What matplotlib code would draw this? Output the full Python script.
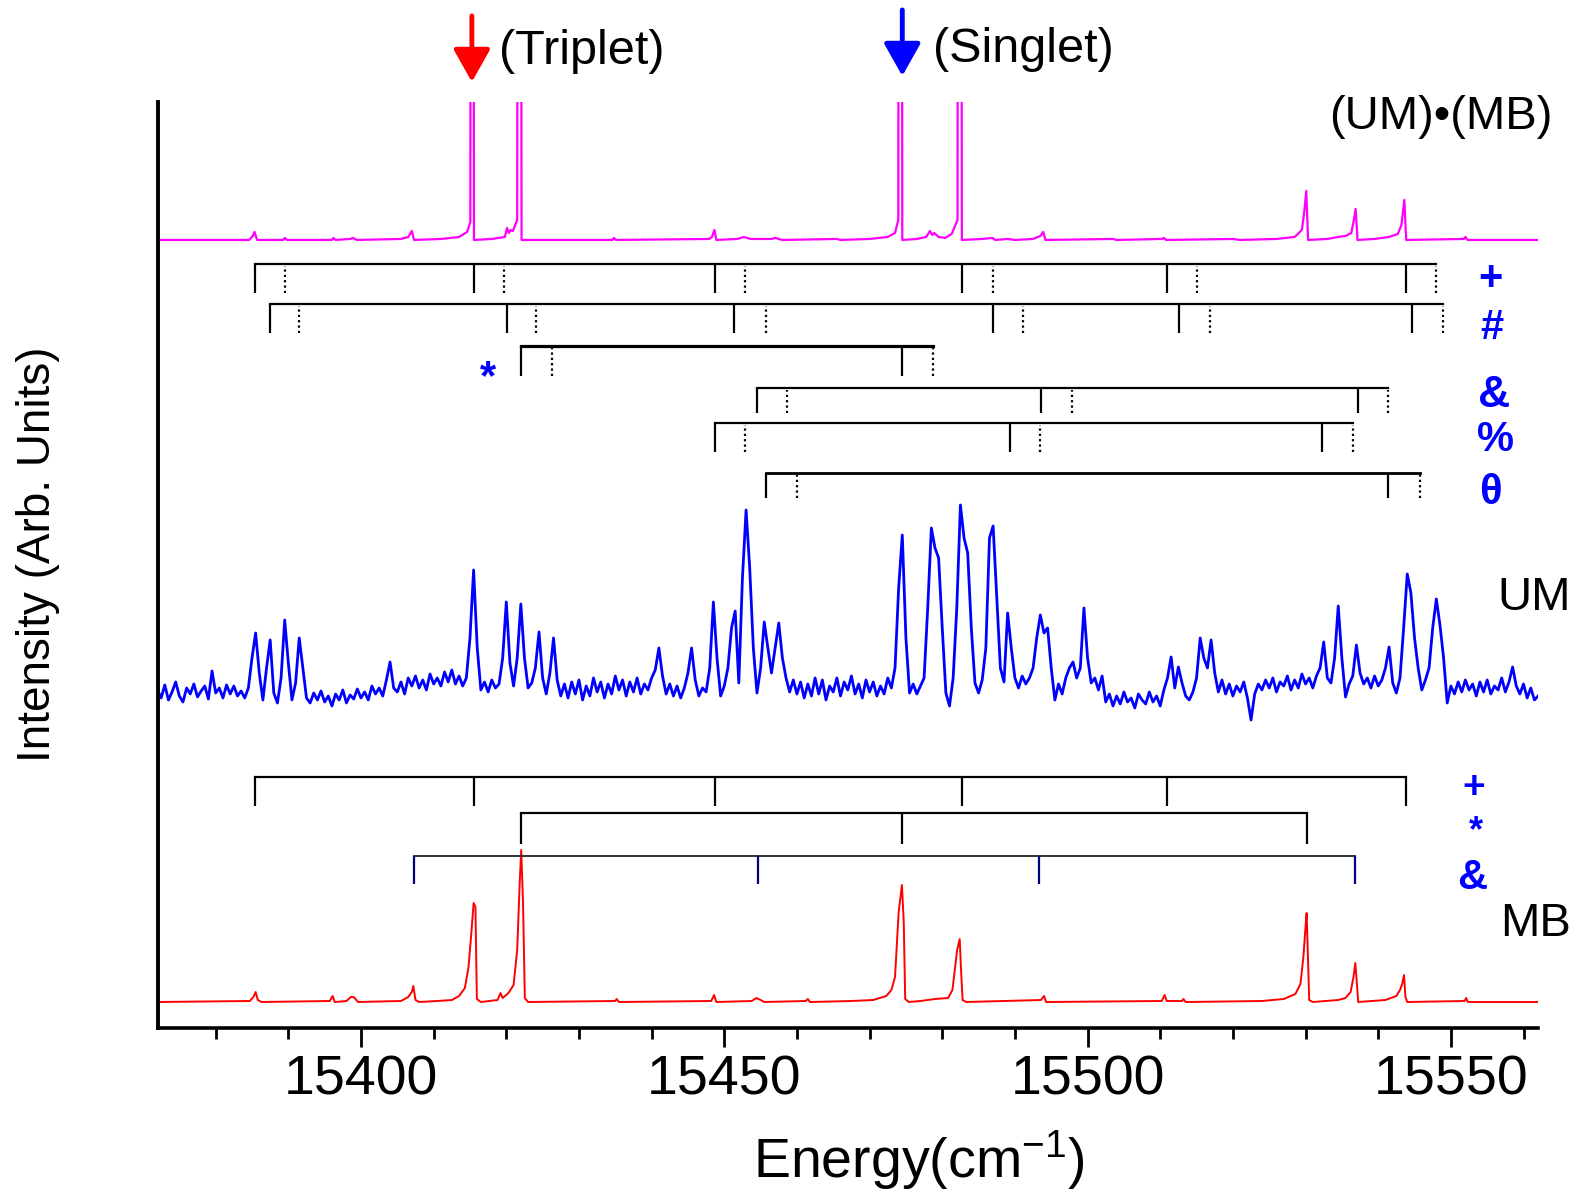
import numpy as np
import matplotlib
matplotlib.use('Agg')
import matplotlib.pyplot as plt
from matplotlib.ticker import MultipleLocator

plt.rcParams['font.family'] = ['Liberation Sans', 'DejaVu Sans']
plt.rcParams['mathtext.fontset'] = 'custom'
plt.rcParams['mathtext.rm'] = 'Liberation Sans'
plt.rcParams['mathtext.it'] = 'Liberation Sans:italic'

# --- UM spectrum: 0.5 cm-1 steps, stored as (start energy, intensities) blocks
um_blocks = [
    (15372, [-2, -10, 3, -12, -4, 6, -8, -14, 0, -6, 4, -9, -3, 2, -11, 17, -5, 0, -10, 3]),
    (15382, [-6, 2, -8, -3, -10, 0, 30, 55, 15, -12, 20, 48, -5, -15, 10, 68, 25, -12, 5, 50]),
    (15392, [20, -10, -15, -5, -12, -3, -14, -8, -18, -6, -12, -2, -15, -7, -11, -1, -10, -4, -12, 2]),
    (15402, [-6, 0, -8, 8, 26, 0, -4, 6, -6, 10, 2, 12, 0, 8, -2, 14, 4, 10, 2, 16]),
    (15412, [6, 18, 4, 12, 2, 10, 50, 118, 40, -2, 6, -4, 8, 0, 4, 30, 86, 25, 2, 30]),
    (15422, [84, 30, 0, 5, 20, 56, 10, -6, 15, 50, 8, -8, 4, -10, 6, -6, 8, -12, 2, -8]),
    (15432, [10, -4, 6, -10, 4, -6, 12, -2, 8, -8, 6, -4, 10, -6, 4, -2, 10, 18, 40, 12]),
    (15442, [-6, 4, -8, 2, -10, 0, 15, 40, 8, -8, 0, -4, 20, 86, 30, -8, 2, 20, 60, 77]),
    (15452, [5, 110, 178, 120, 40, -5, 20, 66, 40, 15, 40, 65, 30, 10, -4, 8, -6, 6, -10, 4]),
    (15462, [-8, 10, -6, 8, -12, 2, -4, 10, -8, 6, -2, 12, -6, 4, -10, 8, -4, 6, -8, 2]),
    (15472, [-6, 10, 0, 20, 100, 153, 50, -5, 4, -6, 2, 10, 80, 160, 140, 130, 60, -5, -18, 10]),
    (15482, [80, 183, 150, 135, 60, 5, -5, 8, 40, 150, 162, 90, 20, 6, 75, 40, 10, 0, 12, 4]),
    (15492, [10, 20, 50, 73, 55, 60, 20, -12, 4, -6, 10, 20, 26, 10, 20, 80, 30, 5, 10, -2]),
    (15502, [12, -14, -6, -18, -8, -16, -4, -14, -10, -20, -6, -12, -16, -4, -14, -8, -18, -2, 10, 31]),
    (15512, [0, 21, 5, -8, -12, -4, 10, 50, 30, 20, 48, 15, -4, 8, -6, 4, -8, 2, -4, 6]),
    (15522, [-10, -32, -6, 4, -2, 8, 0, 10, -4, 6, 2, 12, -2, 8, 0, 14, 4, 10, 0, 12]),
    (15532, [20, 46, 10, 5, 30, 82, 30, -9, 4, 12, 43, 15, 4, 10, 0, 12, 2, 8, 20, 41]),
    (15542, [5, -5, 10, 60, 114, 95, 50, 20, -2, 8, 20, 60, 89, 63, 30, -15, 2, -6, 6, -4]),
    (15552, [8, -2, 4, -8, 6, -4, 8, -6, 2, -2, 10, -4, 6, 21, 2, -6, 4, -10, 0, -12, -8]),
]

# --- (UM)•(MB) complex spectrum (energy, intensity)
complex_pts = [
    (15372.0, 0), (15384.6, 0), (15385.1, 4), (15385.35, 8), (15385.7, 0),
    (15389.3, 0), (15389.5, 2), (15389.8, 0), (15396.0, 0), (15396.2, 2), (15396.5, 0),
    (15398.5, 1), (15398.9, 2), (15399.4, 0),
    (15405.5, 1), (15406.5, 3), (15407.0, 9), (15407.3, 0),
    (15411.0, 1), (15413.5, 3), (15414.6, 8), (15415.05, 18), (15415.3, 2000), (15415.55, 0),
    (15418.0, 1), (15419.8, 3), (15420.1, 12), (15420.35, 7), (15420.6, 10), (15420.9, 9),
    (15421.5, 20), (15421.8, 2000), (15422.1, 0),
    (15434.6, 0), (15434.8, 2), (15435.1, 0),
    (15447.9, 1), (15448.3, 3), (15448.65, 10), (15448.9, 0),
    (15451.8, 1), (15452.7, 3), (15453.6, 1), (15456.5, 1), (15457.0, 2), (15458.0, 0),
    (15465.5, 1), (15466.0, 0), (15470.0, 1), (15472.5, 3), (15473.5, 7), (15473.95, 20),
    (15474.2, 2000), (15474.5, 0),
    (15476.5, 1), (15477.8, 3), (15478.3, 9), (15478.6, 5), (15478.9, 7), (15479.5, 3),
    (15480.4, 2), (15481.3, 6), (15482.1, 20), (15482.4, 2000), (15482.7, 0),
    (15485.5, 1), (15486.9, 2), (15487.3, 0), (15489.0, 1), (15490.0, 0),
    (15492.5, 1), (15493.5, 4), (15493.9, 8), (15494.2, 0),
    (15503.5, 1), (15504.0, 0), (15510.2, 1), (15510.5, 2), (15510.8, 0), (15520.0, 1), (15521.0, 0),
    (15526.0, 1), (15528.5, 3), (15529.5, 10), (15529.85, 30), (15530.1, 49), (15530.35, 0),
    (15533.0, 1), (15534.5, 3), (15535.5, 4), (15536.3, 7), (15536.65, 20), (15536.9, 31), (15537.15, 0),
    (15539.5, 1), (15541.5, 3), (15542.7, 6), (15543.2, 15), (15543.6, 40), (15543.85, 0),
    (15551.8, 1), (15552.0, 3), (15552.3, 0), (15561.9, 0),
]

# --- MB spectrum (energy, intensity)
mb_pts = [
    (15372.0, 0), (15384.7, 1), (15385.2, 5), (15385.5, 10), (15385.8, 2), (15386.3, 0),
    (15395.7, 1), (15396.1, 6), (15396.4, 0), (15398.0, 1), (15398.6, 5), (15399.0, 5), (15399.6, 0),
    (15405.5, 1), (15406.5, 5), (15407.0, 10), (15407.2, 16), (15407.5, 2), (15408.0, 0),
    (15410.5, 1), (15412.5, 2), (15413.5, 6), (15414.3, 14), (15414.8, 35), (15415.2, 70),
    (15415.5, 99), (15415.75, 95), (15415.95, 3), (15416.5, 0),
    (15418.8, 2), (15419.2, 9), (15419.5, 4), (15420.3, 9), (15421.0, 17), (15421.5, 52),
    (15421.85, 120), (15422.05, 152), (15422.3, 100), (15422.55, 4), (15423.0, 0),
    (15435.0, 1), (15435.2, 3), (15435.5, 0), (15448.2, 1), (15448.6, 7), (15448.9, 0),
    (15453.8, 1), (15454.4, 4), (15455.0, 2), (15455.5, 0), (15461.2, 1), (15461.5, 3), (15461.8, 0),
    (15467.5, 1), (15470.5, 2), (15472.3, 6), (15473.0, 12), (15473.5, 25), (15474.0, 90),
    (15474.45, 117), (15474.7, 80), (15474.9, 3), (15475.4, 0),
    (15477.0, 1), (15479.0, 3), (15480.8, 4), (15481.4, 12), (15482.05, 52), (15482.4, 63),
    (15482.6, 30), (15482.8, 2), (15483.3, 0),
    (15493.6, 2), (15494.0, 6), (15494.3, 0),
    (15510.2, 1), (15510.6, 7), (15510.9, 1), (15513.0, 1), (15513.2, 3), (15513.5, 0),
    (15524.0, 1), (15527.0, 3), (15528.6, 8), (15529.3, 18), (15529.7, 45), (15530.0, 75),
    (15530.15, 89), (15530.35, 40), (15530.5, 2), (15531.0, 0),
    (15534.5, 2), (15535.5, 4), (15536.2, 10), (15536.6, 25), (15536.85, 39), (15537.05, 20), (15537.25, 0),
    (15541.0, 2), (15542.5, 6), (15543.0, 12), (15543.3, 18), (15543.55, 27), (15543.75, 5), (15544.0, 0),
    (15551.9, 1), (15552.1, 4), (15552.35, 0), (15561.9, 0),
]

# --- vibronic progressions (solid = origin bands, dotted = partner bands)
plus_solid = [15385.35, 15415.5, 15448.7, 15482.7, 15511.0, 15543.8]
plus_dot = [15389.5, 15419.7, 15452.9, 15487.0, 15515.1, 15548.0]
hash_solid = [15387.45, 15420.1, 15451.3, 15487.0, 15512.6, 15544.7]
hash_dot = [15391.5, 15424.1, 15455.75, 15491.1, 15516.8, 15548.9]
star_solid = [15422.05, 15474.5]
star_dot = [15426.35, 15478.7]
amp_solid = [15454.5, 15493.65, 15537.2]
amp_dot = [15458.7, 15497.9, 15541.4]
pct_solid = [15448.7, 15489.3, 15532.3]
pct_dot = [15452.9, 15493.45, 15536.55]
theta_solid = [15455.7, 15541.35]
theta_dot = [15460.0, 15545.75]

mb_plus = [15385.35, 15415.5, 15448.7, 15482.7, 15511.0, 15543.8]
mb_star = [15422.05, 15474.5, 15530.2]
mb_amp = [15407.25, 15454.6, 15493.25, 15536.8]

triplet_pos = 15415.26
singlet_pos = 15474.5

# vertical offsets of the stacked traces
MB_OFFSET = 26
UM_OFFSET = 340
COMPLEX_OFFSET = 788


def draw_ladder(ax, y, solid, dotted=(), tick=29, lw=1.6, line_lw=None,
                line_color='k', tick_color='k'):
    xs = list(solid) + list(dotted)
    ax.plot([min(xs), max(xs)], [y, y], color=line_color, lw=line_lw or lw,
            solid_capstyle='projecting')
    ax.vlines(solid, y - tick, y, colors=tick_color, lw=lw)
    if len(dotted):
        ax.vlines(dotted, y - tick, y - 2, colors='k', lw=lw, linestyles=(0, (1, 1.4)))


fig = plt.figure(figsize=(15.77, 11.98), dpi=100)
ax = fig.add_axes([0.0999, 0.1419, 0.8754, 0.7730])

# spectra
um_x = np.concatenate([start + 0.5 * np.arange(len(v)) for start, v in um_blocks])
um_y = np.concatenate([v for _, v in um_blocks])
ax.plot(um_x, um_y + UM_OFFSET, color='#0000ff', lw=2.0)

cx, cy = zip(*complex_pts)
ax.plot(cx, np.array(cy) + COMPLEX_OFFSET, color='#ff00ff', lw=1.6)

mx, my = zip(*mb_pts)
ax.plot(mx, np.array(my) + MB_OFFSET, color='#ff0000', lw=1.4)

# progressions above the UM trace
draw_ladder(ax, 764, plus_solid, plus_dot)
draw_ladder(ax, 724, hash_solid, hash_dot)
draw_ladder(ax, 682, star_solid, star_dot, tick=30, line_lw=2.3)
draw_ladder(ax, 640, amp_solid, amp_dot, tick=25)
draw_ladder(ax, 605, pct_solid, pct_dot)
draw_ladder(ax, 555, theta_solid, theta_dot, tick=25, line_lw=2.0)

# progressions above the MB trace
draw_ladder(ax, 251, mb_plus)
draw_ladder(ax, 215, mb_star, tick=31)
draw_ladder(ax, 172, mb_amp, tick=28, line_lw=1.4, line_color='#333333', tick_color='#00007f')

blue = '#0000ff'
for x, y, s, fs in [(15555.5, 749, '+', 30), (15555.6, 700, '#', 30), (15556.0, 632, '&', 32),
                    (15556.2, 588, '%', 30), (15555.5, 535, 'θ', 30),
                    (15553.1, 240, '+', 28), (15553.45, 196, '*', 26), (15552.95, 150, '&', 30)]:
    ax.text(x, y, s, color=blue, fontsize=fs, fontweight='bold', ha='center', va='center')
ax.text(15417.46, 650, '*', color=blue, fontsize=30, fontweight='bold', ha='center', va='center')

ax.text(15561.4, 430, 'UM', fontsize=34, ha='center', va='center')
ax.text(15561.7, 104, 'MB', fontsize=34, ha='center', va='center')
ax.text(15548.6, 911, '(UM)•(MB)', fontsize=34, ha='center', va='center')

# state markers above the frame
ax.annotate('', xy=(triplet_pos, 946), xytext=(triplet_pos, 1012), annotation_clip=False,
            arrowprops=dict(arrowstyle='-|>,head_length=0.8,head_width=0.45', color='#ff0000',
                            lw=3.5, mutation_scale=25, shrinkA=0, shrinkB=0))
ax.annotate('', xy=(singlet_pos, 952), xytext=(singlet_pos, 1018), annotation_clip=False,
            arrowprops=dict(arrowstyle='-|>,head_length=0.8,head_width=0.45', color='#0000ff',
                            lw=3.5, mutation_scale=25, shrinkA=0, shrinkB=0))
ax.text(15419.0, 976, '(Triplet)', fontsize=35, ha='left', va='center')
ax.text(15478.7, 978, '(Singlet)', fontsize=35, ha='left', va='center')

# axes styling
ax.set_xlim(15372, 15562)
ax.set_ylim(0, 926)
ax.set_yticks([])
for side in ('top', 'right'):
    ax.spines[side].set_visible(False)
ax.spines['left'].set_linewidth(2.8)
ax.spines['bottom'].set_linewidth(2.6)
ax.xaxis.set_major_locator(MultipleLocator(50))
ax.xaxis.set_minor_locator(MultipleLocator(10))
ax.tick_params(axis='x', which='major', direction='out', length=14, width=2, labelsize=40, pad=5)
ax.tick_params(axis='x', which='minor', direction='out', length=8, width=2)

fig.text(0.0241, 0.5376, 'Intensity (Arb. Units)', rotation=90, fontsize=33, ha='center', va='center')
fig.text(0.5824, 0.0317, r'Energy(cm$^{-1}$)', fontsize=40, ha='center', va='center')

fig.savefig('out.png', dpi=100)
